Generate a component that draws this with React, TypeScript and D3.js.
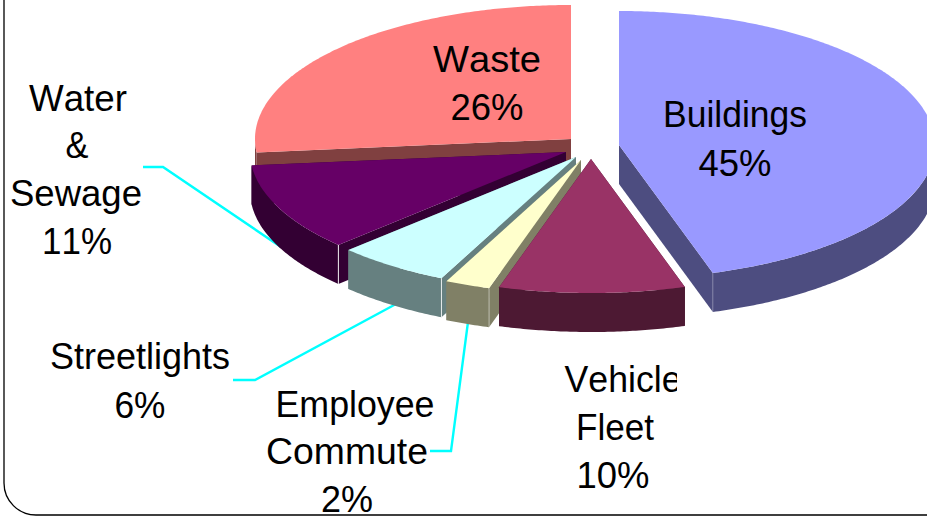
import React from "react";
import * as d3 from "d3";

const W = 927;
const H = 517;

// Order follows the pie clockwise from 12 o'clock
const categories = ["Buildings", "Vehicle Fleet", "Employee Commute", "Streetlights", "Water & Sewage", "Waste"];
const shares = [45.2, 9.5, 2.3, 5.8, 10.6, 26.6];
const topColors = ["#9999FF", "#993366", "#FFFFCC", "#CCFFFF", "#660066", "#FF8080"];
const sideColors = ["#4D4D80", "#4D1933", "#808066", "#668080", "#330033", "#804040"];
const apexX = [619, 591, 581, 576, 566, 571];
const apexY = [145, 159, 160, 157, 152, 139];
// Which cut edge shows a light corner line: "a" start, "b" end, "" none
const cornerEdge = ["b", "", "a", "a", "a", ""];
const cornerOpacity = [0.25, 0, 0.45, 0.8, 0.9, 0];
const drawOrder = [5, 4, 3, 2, 1, 0];

const RX = 316;
const RY = 134;
const DEPTH = 39;

const labelLines = [
  { lines: ["Buildings", "45%"], cx: [735, 735], y: [127, 176], w: [144, 73] },
  { lines: ["Waste", "26%"], cx: [487, 487], y: [72, 120], w: [108, 73] },
  { lines: ["Water", "&", "Sewage", "11%"], cx: [78, 77, 76, 77], y: [111, 158, 206, 254], w: [98, 23, 132, 70] },
  { lines: ["Streetlights", "6%"], cx: [140, 140], y: [369, 418], w: [180, 51] },
  { lines: ["Employee", "Commute", "2%"], cx: [355, 347, 347], y: [417, 464, 512], w: [159, 162, 52], clip: "clipEmp" },
  { lines: ["Vehicle", "Fleet", "10%"], cx: [623, 615, 613], y: [392, 440, 488], w: [117, 78, 73], clip: "clipVeh" },
];

const leaderLines: [number, number][][] = [
  [[143, 167], [163, 167], [281, 247]],
  [[233, 380], [255, 380], [396, 304]],
  [[430, 451], [451, 451], [468, 322]],
];

const pieGen = d3.pie<number>().sort(null).value((d) => d);
const arcs = pieGen(shares);
const lineGen = d3.line<[number, number]>();

function pt(i: number, a: number, dy = 0): [number, number] {
  return [apexX[i] + RX * Math.sin(a), apexY[i] - RY * Math.cos(a) + dy];
}
function sample(a0: number, a1: number): number[] {
  const n = Math.max(2, Math.ceil((a1 - a0) / 0.01));
  return d3.range(n + 1).map((k) => a0 + ((a1 - a0) * k) / n);
}

export default function App() {
  return (
    <svg
      width={W}
      height={H}
      viewBox={`0 0 ${W} ${H}`}
      style={{ position: "fixed", left: 0, top: 0, display: "block", background: "#fff" }}
    >
      <defs>
        <clipPath id="clipEmp"><rect x={0} y={380} width={434} height={137} /></clipPath>
        <clipPath id="clipVeh"><rect x={500} y={350} width={177} height={167} /></clipPath>
      </defs>
      <rect x={4} y={-100} width={1100} height={615} rx={32} ry={32} fill="#fff" stroke="#000" strokeWidth={1.3} />

      {leaderLines.map((l, i) => (
        <path key={i} d={lineGen(l) ?? ""} fill="none" stroke="#00FFFF" strokeWidth={2.4} />
      ))}

      {drawOrder.map((i) => {
        const a0 = arcs[i].startAngle;
        const a1 = arcs[i].endAngle;
        const apex: [number, number] = [apexX[i], apexY[i]];
        const apexD: [number, number] = [apexX[i], apexY[i] + DEPTH];
        const wall = (a: number) =>
          (lineGen([apex, pt(i, a), pt(i, a, DEPTH), apexD]) ?? "") + "Z";
        const top = (lineGen([apex, ...sample(a0, a1).map((a) => pt(i, a))]) ?? "") + "Z";
        const lo = Math.max(a0, Math.PI / 2);
        const hi = Math.min(a1, (3 * Math.PI) / 2);
        const sideAngles = sample(lo, hi);
        const side =
          hi > lo
            ? (lineGen([
                ...sideAngles.map((a) => pt(i, a)),
                ...sideAngles.slice().reverse().map((a) => pt(i, a, DEPTH)),
              ]) ?? "") + "Z"
            : "";
        const cornerA = cornerEdge[i] === "a" ? a0 : cornerEdge[i] === "b" ? a1 : null;
        return (
          <g key={categories[i]}>
            <path d={wall(a0)} fill={sideColors[i]} />
            <path d={wall(a1)} fill={sideColors[i]} />
            {side && <path d={side} fill={sideColors[i]} />}
            <path d={top} fill={topColors[i]} />
            {cornerA !== null && (
              <path
                d={lineGen([pt(i, cornerA), pt(i, cornerA, DEPTH)]) ?? ""}
                stroke="#fff"
                strokeOpacity={cornerOpacity[i]}
                strokeWidth={1}
                fill="none"
              />
            )}
          </g>
        );
      })}

      {labelLines.map((lab, i) => (
        <g key={i} clipPath={lab.clip ? `url(#${lab.clip})` : undefined}>
          {lab.lines.map((t, j) => (
            <text
              key={j}
              x={lab.cx[j]}
              y={lab.y[j]}
              textAnchor="middle"
              textLength={lab.w[j]}
              lengthAdjust="spacingAndGlyphs"
              fontFamily="'Liberation Sans', Arial, sans-serif"
              fontSize={37}
              style={{ fontKerning: "none" }}
              fill="#000"
            >
              {t}
            </text>
          ))}
        </g>
      ))}
    </svg>
  );
}
